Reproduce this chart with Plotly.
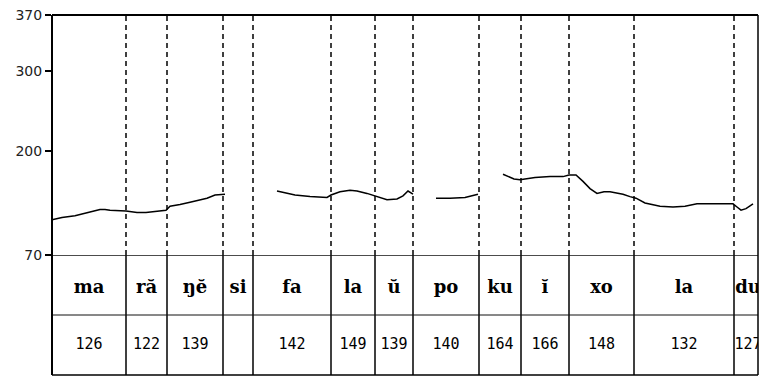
import plotly.graph_objects as go

# Syllable segmentation (ms) and mean F0 per syllable (Hz)
syllables = ["ma", "ră", "ŋĕ", "si", "fa", "la", "ŭ", "po", "ku", "ĭ", "xo", "la", "du"]
mean_f0 = [126, 122, 139, None, 142, 149, 139, 140, 164, 166, 148, 132, 127]
boundaries = [0, 148, 230, 342, 402, 558, 646, 722, 854, 938, 1034, 1164, 1364, 1420]

# Pitch contour, voiced stretches only (time in ms, F0 in Hz)
seg1_t = [0, 20, 46, 66, 86, 96, 106, 116, 148, 170, 188, 216, 228, 236, 256, 276, 296, 310, 326, 346]
seg1_f = [114, 117, 119, 122, 125, 127, 127, 126, 125, 123, 123, 125, 126, 131, 133, 136, 139, 141, 145, 146]
seg2_t = [450, 470, 486, 516, 550, 558, 576, 596, 610, 630, 646, 658, 670, 690, 702, 712, 718, 722]
seg2_f = [150, 147, 145, 143, 142, 145, 149, 151, 150, 147, 144, 141, 139, 140, 144, 150, 148, 146]
seg3_t = [768, 796, 826, 842, 852]
seg3_f = [141, 141, 142, 144, 146]
seg4_t = [902, 912, 924, 936, 952, 966, 996, 1022, 1034, 1048, 1062, 1076, 1090, 1104, 1116,
          1130, 1142, 1156, 1168, 1186, 1216, 1242, 1266, 1290, 1362, 1370, 1378, 1388, 1402]
seg4_f = [171, 168, 165, 164, 166, 167, 168, 168, 170, 170, 162, 153, 147, 149, 149,
          147, 146, 143, 141, 135, 131, 130, 131, 134, 134, 130, 126, 128, 134]

f0_ticks = [70, 200, 300, 370]
x_end = 1412

fig = go.Figure()

# contour: segments joined with gaps
t_all, f_all = [], []
for ts, fs in [(seg1_t, seg1_f), (seg2_t, seg2_f), (seg3_t, seg3_f), (seg4_t, seg4_f)]:
    t_all += ts + [None]
    f_all += fs + [None]
fig.add_trace(go.Scatter(x=t_all, y=f_all, mode="lines", connectgaps=False,
                         line=dict(color="black", width=1.5), showlegend=False,
                         hoverinfo="skip", xaxis="x", yaxis="y"))

# table text: syllables (upper row) and mean F0 (lower row)
centers = [(boundaries[i] + boundaries[i + 1]) / 2 for i in range(len(syllables))]
fig.add_trace(go.Scatter(x=centers, y=[1.45] * len(syllables), mode="text", text=syllables,
                         textfont=dict(family="DejaVu Serif", size=18, color="black", weight="bold"),
                         cliponaxis=True, showlegend=False, hoverinfo="skip",
                         xaxis="x", yaxis="y2"))
fig.add_trace(go.Scatter(x=centers, y=[0.5] * len(syllables), mode="text",
                         text=["" if v is None else str(v) for v in mean_f0],
                         textfont=dict(family="DejaVu Sans Mono", size=15, color="black"),
                         cliponaxis=True, showlegend=False, hoverinfo="skip",
                         xaxis="x", yaxis="y2"))

shapes = []
for b in boundaries[1:-1]:
    shapes.append(dict(type="line", xref="x", yref="y domain", x0=b, x1=b, y0=0, y1=1,
                       line=dict(color="black", width=1.5, dash="5px,4px")))
    shapes.append(dict(type="line", xref="x", yref="y2 domain", x0=b, x1=b, y0=0, y1=1,
                       line=dict(color="black", width=1.5)))
# row separators
shapes.append(dict(type="line", xref="paper", yref="y2", x0=0, x1=1, y0=2, y1=2,
                   line=dict(color="#111", width=1.5)))
shapes.append(dict(type="line", xref="paper", yref="y2", x0=0, x1=1, y0=1, y1=1,
                   line=dict(color="#111", width=1)))
# frame
shapes.append(dict(type="line", xref="paper", yref="paper", x0=0, x1=1, y0=1, y1=1,
                   line=dict(color="black", width=2)))
shapes.append(dict(type="line", xref="paper", yref="paper", x0=0, x1=0, y0=0, y1=1,
                   line=dict(color="black", width=2)))
shapes.append(dict(type="line", xref="paper", yref="paper", x0=1, x1=1, y0=0, y1=1,
                   line=dict(color="black", width=1.5)))
shapes.append(dict(type="line", xref="paper", yref="paper", x0=0, x1=1, y0=0, y1=0,
                   line=dict(color="black", width=1.5)))

fig.update_layout(
    width=763, height=376, autosize=False,
    margin=dict(l=52, r=5, t=15, b=1, pad=0),
    plot_bgcolor="white", paper_bgcolor="white",
    showlegend=False,
    shapes=shapes,
    xaxis=dict(range=[0, x_end], showticklabels=False, ticks="", showgrid=False,
               zeroline=False, showline=False, anchor="y2", automargin=False),
    yaxis=dict(domain=[1 / 3, 1], range=[70, 370], tickvals=f0_ticks,
               ticks="outside", ticklen=6, tickwidth=1.5, tickcolor="black",
               tickfont=dict(family="DejaVu Sans", size=14, color="#222"),
               showgrid=False, zeroline=False, showline=False, automargin=False),
    yaxis2=dict(domain=[0, 1 / 3], range=[0, 2], showticklabels=False, ticks="",
                showgrid=False, zeroline=False, showline=False, automargin=False),
)

fig.write_html("out.html", config={"responsive": False, "displayModeBar": False})
